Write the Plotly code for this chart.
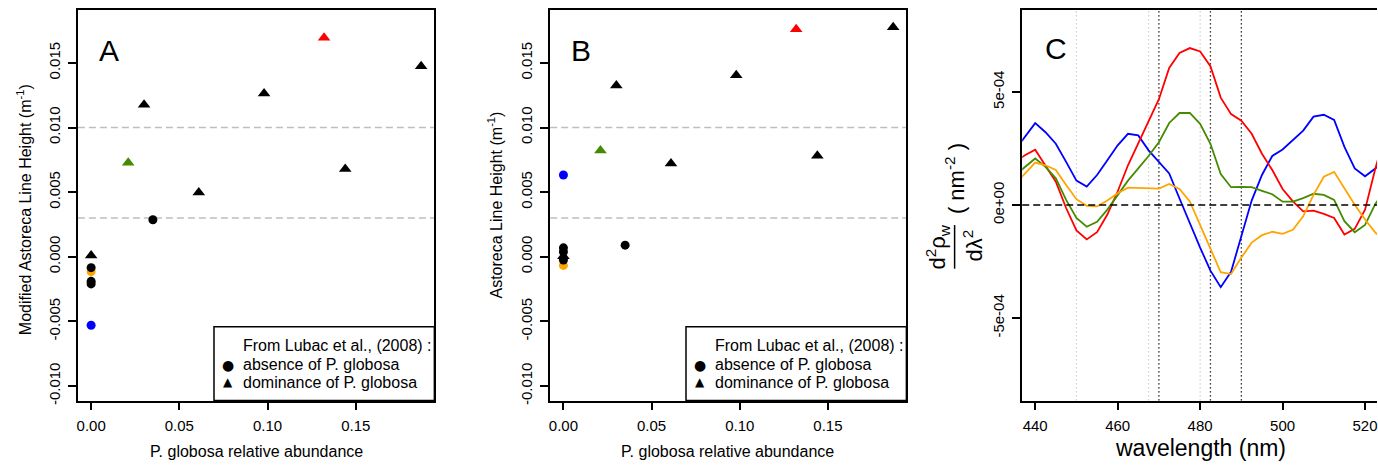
import plotly.graph_objects as go

W, H = 1378, 465
FONT = "Liberation Sans, Arial, sans-serif"

# ---------------- Panels A and B data ----------------
abund_col = [0.0, 0.0, 0.021, 0.132]
col_colors = ["orange", "#0000FF", "#458B00", "#FF0000"]
col_symbols = ["circle", "circle", "triangle-up", "triangle-up"]
modA_col = [-0.00115, -0.0053, 0.00727, 0.01695]
astB_col = [-0.00067, 0.00633, 0.00822, 0.01761]

abund_tri = [0.0, 0.030, 0.061, 0.098, 0.144, 0.187]
modA_tri = [0.0001, 0.01177, 0.00498, 0.01263, 0.00679, 0.01474]
astB_tri = [0.00005, 0.01325, 0.00722, 0.01404, 0.00781, 0.01776]

abund_circ = [0.0, 0.0, 0.0, 0.035]
modA_circ = [-0.00084, -0.0019, -0.0021, 0.00286]
astB_circ = [0.00069, 0.00038, -0.00025, 0.0009]

thresholds = [0.010, 0.003]

x_ticks_ab = [0.0, 0.05, 0.10, 0.15]
x_ticktext_ab = ["0.00", "0.05", "0.10", "0.15"]
y_ticks_ab = [-0.010, -0.005, 0.0, 0.005, 0.010, 0.015]
y_ticktext_ab = ["-0.010", "-0.005", "0.000", "0.005", "0.010", "0.015"]

legend_title = "From Lubac et al., (2008) :"
legend_labels = ["absence of P. globosa", "dominance of P. globosa"]
legend_glyphs = ["●", "▲"]

# ---------------- Panel C data (units of 1e-4 nm^-2) ----------------
wavelength = [435, 437.5, 440, 442.5, 445, 447.5, 450, 452.5, 455, 457.5, 460, 462.5,
              465, 467.5, 470, 472.5, 475, 477.5, 480, 482.5, 485, 487.5, 490, 492.5,
              495, 497.5, 500, 502.5, 505, 507.5, 510, 512.5, 515, 517.5, 520, 522.5, 525]
blue_d2 = [2.4, 3.0, 3.62, 3.22, 2.71, 1.91, 1.08, 0.82, 1.33, 1.98, 2.64, 3.15,
           3.08, 2.42, 1.91, 1.40, 0.29, -0.82, -1.88, -2.90, -3.63, -2.95, -1.40, 0.20,
           1.33, 2.17, 2.46, 2.86, 3.29, 3.91, 3.99, 3.76, 2.57, 1.62, 1.27, 1.62, 2.0]
red_d2 = [1.9, 2.2, 2.45, 1.76, 1.03, -0.13, -1.12, -1.52, -1.20, -0.42, 0.60, 1.76,
          2.71, 3.66, 4.68, 6.06, 6.72, 6.94, 6.79, 6.14, 4.75, 4.02, 3.73, 3.15,
          2.27, 1.55, 0.71, 0.16, -0.28, -0.25, -0.39, -0.57, -1.30, -1.05, -0.2, 1.62, 3.2]
green_d2 = [1.3, 1.7, 2.06, 1.69, 1.18, 0.23, -0.57, -0.96, -0.74, -0.20, 0.45, 1.08,
            1.62, 2.17, 2.78, 3.63, 4.07, 4.07, 3.59, 2.71, 1.37, 0.79, 0.80, 0.79,
            0.63, 0.48, 0.15, 0.15, 0.31, 0.50, 0.45, 0.23, -0.71, -1.20, -0.88, 0.05, 0.7]
orange_d2 = [0.9, 1.4, 1.88, 1.76, 1.55, 0.89, 0.26, -0.03, -0.06, 0.20, 0.52, 0.77,
             0.76, 0.74, 0.73, 0.93, 0.71, 0.16, -0.86, -1.88, -2.97, -3.05, -2.32, -1.66,
             -1.33, -1.18, -1.27, -1.09, -0.50, 0.45, 1.25, 1.47, 0.74, 0.01, -0.64, -1.22, -1.6]
d2_scale = 1e-4
grey_vlines = [450, 467.5, 480]
black_vlines = [470, 482.5, 490]

x_ticks_c = [440, 460, 480, 500, 520]
y_ticks_c = [-5e-4, 0.0, 5e-4]
y_ticktext_c = ["-5e-04", "0e+00", "5e-04"]

# ---------------- figure ----------------
fig = go.Figure()


def px_x(p):
    return p / W


def px_y(p):
    return 1 - p / H


for (xa, ya, ycol, ytri, ycirc) in [
        ("x", "y", modA_col, modA_tri, modA_circ),
        ("x2", "y2", astB_col, astB_tri, astB_circ)]:
    for xv, yv, c, s in zip(abund_col, ycol, col_colors, col_symbols):
        fig.add_trace(go.Scatter(x=[xv], y=[yv], mode="markers", xaxis=xa, yaxis=ya,
                                 marker=dict(color=c, symbol=s, size=11 if s != "circle" else 9),
                                 showlegend=False))
    fig.add_trace(go.Scatter(x=abund_tri, y=ytri, mode="markers", xaxis=xa, yaxis=ya,
                             marker=dict(color="black", symbol="triangle-up", size=11),
                             showlegend=False))
    fig.add_trace(go.Scatter(x=abund_circ, y=ycirc, mode="markers", xaxis=xa, yaxis=ya,
                             marker=dict(color="black", symbol="circle", size=9),
                             showlegend=False))

curve_colors = ["#0000FF", "#FF0000", "#458B00", "#FFA500"]
for ys, c in zip([blue_d2, red_d2, green_d2, orange_d2], curve_colors):
    fig.add_trace(go.Scatter(x=wavelength, y=[v * d2_scale for v in ys], mode="lines",
                             xaxis="x3", yaxis="y3", line=dict(color=c, width=1.8),
                             showlegend=False))

shapes = []
for ya, xa in [("y", "x"), ("y2", "x2")]:
    for t in thresholds:
        shapes.append(dict(type="line", xref=f"{xa} domain", yref=ya, x0=0, x1=1, y0=t, y1=t,
                           line=dict(color="#BEBEBE", width=1.5, dash="7px,4px"), layer="below"))
for v in grey_vlines:
    shapes.append(dict(type="line", xref="x3", yref="y3 domain", x0=v, x1=v, y0=0, y1=1,
                       line=dict(color="#C8C8C8", width=1.3, dash="1.2px,2.8px"), layer="below"))
for v in black_vlines:
    shapes.append(dict(type="line", xref="x3", yref="y3 domain", x0=v, x1=v, y0=0, y1=1,
                       line=dict(color="black", width=1.3, dash="1.2px,2.8px"), layer="below"))
shapes.append(dict(type="line", xref="x3 domain", yref="y3", x0=0, x1=1, y0=0, y1=0,
                   line=dict(color="black", width=1.5, dash="7px,4px")))
# fraction bar of the y label in C
shapes.append(dict(type="line", xref="paper", yref="paper", x0=px_x(955), x1=px_x(955),
                   y0=px_y(227), y1=px_y(271), line=dict(color="black", width=1.5)))

# legend boxes (panel A and B)
legend_offsets = [0.0, 472.7]
for off in legend_offsets:
    shapes.append(dict(type="rect", xref="paper", yref="paper",
                       x0=px_x(213.3 + off), x1=px_x(434 + off), y0=px_y(404), y1=px_y(329.7),
                       line=dict(color="black", width=1.5), fillcolor="white", layer="above"))

axis_common = dict(showline=True, linecolor="black", linewidth=1.5, ticks="outside",
                   ticklen=8, tickwidth=1.5, tickcolor="black", showgrid=False, zeroline=False,
                   tickfont=dict(family=FONT, size=15, color="black"), ticklabeloverflow="allow")

ydom = [px_y(404), px_y(9.7)]
layout = dict(
    width=W, height=H, margin=dict(l=0, r=0, t=0, b=0),
    plot_bgcolor="white", paper_bgcolor="white",
    font=dict(family=FONT, color="black"), showlegend=False,
    xaxis=dict(domain=[px_x(77), px_x(434)], range=[-0.0075, 0.1945], anchor="y",
               tickvals=x_ticks_ab, ticktext=x_ticktext_ab, mirror=True,
               ticklabelstandoff=3, **axis_common),
    yaxis=dict(domain=ydom, range=[-0.01112, 0.01912], anchor="x",
               tickvals=y_ticks_ab, ticktext=y_ticktext_ab, tickangle=-90, mirror=True,
               ticklabelstandoff=2, **axis_common),
    xaxis2=dict(domain=[px_x(550), px_x(906.7)], range=[-0.0075, 0.1945], anchor="y2",
                tickvals=x_ticks_ab, ticktext=x_ticktext_ab, mirror=True,
                ticklabelstandoff=3, **axis_common),
    yaxis2=dict(domain=ydom, range=[-0.01112, 0.01912], anchor="x2",
                tickvals=y_ticks_ab, ticktext=y_ticktext_ab, tickangle=-90, mirror=True,
                ticklabelstandoff=2, **axis_common),
    xaxis3=dict(domain=[px_x(1022.7), 1.0], range=[436.85, 522.9], anchor="y3",
                tickvals=x_ticks_c, mirror=True, ticklabelstandoff=3, **axis_common),
    yaxis3=dict(domain=ydom, range=[-8.64e-4, 8.64e-4], anchor="x3",
                tickvals=y_ticks_c, ticktext=y_ticktext_c, tickangle=-90, mirror=False,
                ticklabelstandoff=2, **axis_common),
    shapes=shapes,
)
fig.update_layout(**layout)


def ann(text, x, y, size, angle=0, xanchor="center", family=FONT):
    fig.add_annotation(text=text, xref="paper", yref="paper", x=px_x(x), y=px_y(y),
                       xanchor=xanchor, yanchor="middle", showarrow=False, textangle=angle,
                       font=dict(family=family, size=size, color="black"))


ann("A", 108, 51, 30)
ann("B", 581, 51, 30)
ann("C", 1057, 49, 30)
ann("P. globosa relative abundance", 256, 455, 16)
ann("P. globosa relative abundance", 728, 455, 16)
ann("Modified Astoreca Line Height (m<sup>-1</sup>)", 23, 211, 16, -90)
ann("Astoreca Line Height (m<sup>-1</sup>)", 495, 207, 16, -90)
ann("wavelength (nm)", 1201, 452, 23)
ann("d<sup>2</sup>ρ<sub>w</sub>", 938, 249, 22, -90)
ann("dλ<sup>2</sup>", 973, 248, 22, -90)
ann("( nm<sup>-2</sup> )", 956, 180, 22, -90)

for off in legend_offsets:
    ann(legend_title, 240.5 + off, 349, 16, xanchor="left")
    ann(legend_labels[0], 240.5 + off, 367.7, 16, xanchor="left")
    ann(legend_labels[1], 240.5 + off, 386, 16, xanchor="left")
    ann(legend_glyphs[0], 227.7 + off, 367.7, 14, family="DejaVu Sans")
    ann(legend_glyphs[1], 227.7 + off, 385, 12, family="DejaVu Sans")

fig.write_html("out.html")
